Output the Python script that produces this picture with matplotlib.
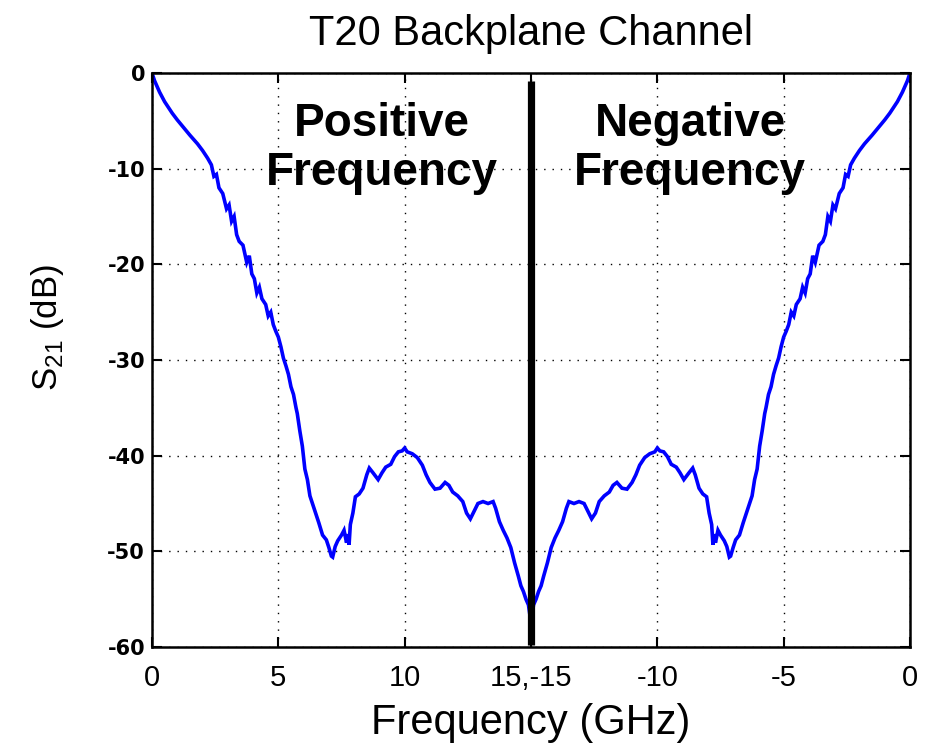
import numpy as np
import matplotlib
matplotlib.use('Agg')
import matplotlib.pyplot as plt

plt.rcParams['font.family'] = ['Liberation Sans', 'DejaVu Sans']
plt.rcParams['mathtext.fontset'] = 'custom'
plt.rcParams['mathtext.rm'] = 'Liberation Sans'

# measured |S21| of the T20 backplane, positive frequencies (GHz, dB)
freq_ghz = [0, 0.1, 0.3, 0.5, 0.8, 1.0, 1.25, 1.5, 1.8, 2.0, 2.2, 2.35, 2.45, 2.55,
            2.65, 2.8, 2.95, 3.05, 3.15, 3.25, 3.35, 3.45, 3.6, 3.75, 3.85, 3.95,
            4.05, 4.15, 4.25, 4.35, 4.5, 4.6, 4.7, 4.8, 4.9, 5.0, 5.1, 5.2, 5.3,
            5.4, 5.5, 5.6, 5.7, 5.75, 5.85, 5.95, 6.0, 6.05, 6.15, 6.25, 6.35,
            6.5, 6.6, 6.75, 6.9, 7.0, 7.1, 7.15, 7.25, 7.35, 7.5, 7.6, 7.7, 7.75,
            7.8, 7.85, 7.95, 8.05, 8.2, 8.35, 8.5, 8.6, 8.75, 8.95, 9.1, 9.25,
            9.45, 9.6, 9.75, 9.9, 10.0, 10.1, 10.3, 10.5, 10.7, 10.85, 11.0, 11.2,
            11.4, 11.6, 11.75, 11.9, 12.1, 12.3, 12.45, 12.6, 12.75, 12.9, 13.1,
            13.3, 13.5, 13.6, 13.75, 13.9, 14.05, 14.2, 14.35, 14.5, 14.6, 14.7,
            14.8, 14.9, 15.0]
s21_db = [0, -0.8, -2.0, -3.0, -4.2, -4.9, -5.7, -6.5, -7.4, -8.1, -8.9, -9.6,
          -10.8, -10.6, -12.0, -12.6, -14.2, -13.8, -15.5, -15.0, -16.9, -17.6,
          -18.0, -19.8, -19.1, -21.0, -21.5, -23.0, -22.4, -23.6, -24.2, -25.4,
          -25.0, -26.3, -27.0, -27.6, -28.6, -29.8, -30.6, -31.5, -32.8, -33.6,
          -35.0, -35.6, -37.4, -39.0, -40.2, -41.4, -42.5, -44.2, -45.0, -46.2,
          -47.0, -48.3, -48.8, -49.6, -50.5, -50.6, -49.5, -48.9, -48.3, -47.8,
          -49.1, -48.2, -49.3, -47.2, -46.0, -44.3, -44.0, -43.4, -42.0, -41.3,
          -41.8, -42.5, -41.8, -41.2, -40.9, -40.1, -39.6, -39.5, -39.2, -39.6,
          -39.8, -40.2, -41.0, -42.0, -42.8, -43.5, -43.4, -42.8, -43.1, -43.8,
          -44.2, -44.8, -46.0, -46.6, -45.8, -45.0, -44.8, -45.0, -44.8, -45.5,
          -46.9, -47.8, -48.6, -49.6, -51.2, -52.6, -53.6, -54.2, -55.0, -55.6,
          -57.5]

xtick_pos = [0, 5, 10, 15, 20, 25, 30]
xtick_lbl = ['0', '5', '10', '15,-15', '-10', '-5', '0']
ytick_pos = [-60, -50, -40, -30, -20, -10, 0]

f = np.array(freq_ghz)
s = np.array(s21_db)
nyq = 15.0

fig = plt.figure(figsize=(9.26, 7.43), dpi=100)
ax = fig.add_axes([152/926, 1-647/743, 758/926, 574/743])

# positive half, then the negative half mirrored onto 15..30
ax.plot(f, s, color='#0000ff', lw=2.6, solid_joinstyle='miter')
ax.plot(2*nyq - f, s, color='#0000ff', lw=2.6, solid_joinstyle='miter')
ax.plot([nyq, nyq], [-59.8, -0.8], color='black', lw=5.2, solid_capstyle='butt')

ax.set_xlim(0, 30)
ax.set_ylim(-60, 0)
ax.set_xticks(xtick_pos)
ax.set_xticklabels(xtick_lbl, fontsize=21)
ax.set_yticks(ytick_pos)
ax.set_yticklabels([str(v) for v in ytick_pos], fontsize=15,
                   fontweight='bold', family='DejaVu Sans')
ax.tick_params(direction='in', length=7, width=1.5, top=True, right=True)
ax.tick_params(axis='x', pad=12)
ax.tick_params(axis='y', pad=5)
ax.grid(True, color='black', linestyle=(0, (1, 5)), lw=1.0)
for sp in ax.spines.values():
    sp.set_linewidth(1.8)

ax.text(9.1, -7.9, 'Positive\nFrequency', fontsize=33, fontweight='bold',
        ha='center', va='center', linespacing=1.15)
ax.text(21.3, -7.9, 'Negative\nFrequency', fontsize=33, fontweight='bold',
        ha='center', va='center', linespacing=1.15)

ax.set_title('T20 Backplane Channel', fontsize=30, pad=20)
ax.set_xlabel('Frequency (GHz)', fontsize=30, labelpad=8)
fig.text(48/926, 1-328/743, r'S$_{21}$ (dB)', fontsize=25, rotation=90,
         ha='center', va='center')

fig.savefig('out.png', dpi=100)
